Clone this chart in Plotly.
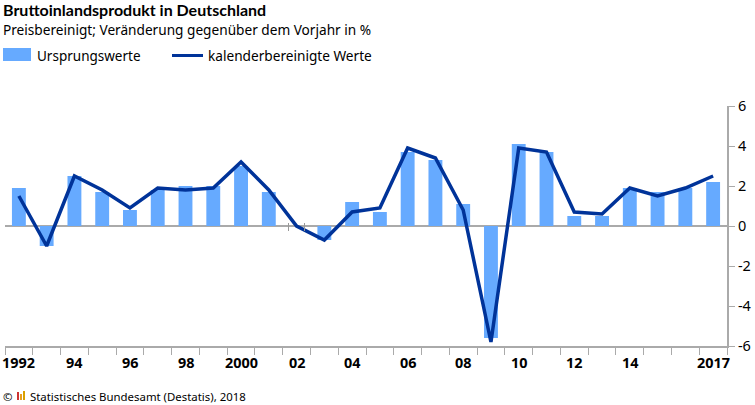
import plotly.graph_objects as go

years = list(range(1992, 2018))
bars = [1.9, -1.0, 2.5, 1.7, 0.8, 1.8, 2.0, 2.0, 3.0, 1.7, 0.0, -0.7, 1.2, 0.7, 3.7, 3.3, 1.1, -5.6, 4.1, 3.7, 0.5, 0.5, 1.9, 1.7, 1.9, 2.2]
line = [1.5, -1.0, 2.5, 1.8, 0.9, 1.9, 1.8, 1.9, 3.2, 1.8, 0.0, -0.7, 0.7, 0.9, 3.9, 3.4, 0.8, -5.8, 3.9, 3.7, 0.7, 0.6, 1.9, 1.5, 1.9, 2.5]
x_labels = {1992: "1992", 1994: "94", 1996: "96", 1998: "98", 2000: "2000", 2002: "02", 2004: "04", 2006: "06", 2008: "08", 2010: "10", 2012: "12", 2014: "14", 2017: "2017"}
y_ticks = [-6, -4, -2, 0, 2, 4, 6]
y_labels = ["-6", "-4", "-2", "0", "2", "4", "6"]
title = "Bruttoinlandsprodukt in Deutschland"
subtitle = "Preisbereinigt; Veränderung gegenüber dem Vorjahr in %"
source = "Statistisches Bundesamt (Destatis), 2018"

FONT = "Noto Sans"
W, H = 755, 405
L, R, T, B = 5, 727, 106, 346

fig = go.Figure()
fig.add_bar(x=years, y=bars, name="Ursprungswerte", marker=dict(color="#66aaff", line_width=0), width=0.5)
fig.add_scatter(x=years, y=line, mode="lines", name="kalenderbereinigte Werte", line=dict(color="#003399", width=3.5))

fig.update_layout(
    width=W, height=H, autosize=False, template=None, showlegend=False,
    paper_bgcolor="white", plot_bgcolor="white",
    margin=dict(l=L, r=W - R, t=T, b=H - B, pad=0),
    font=dict(family=FONT, color="#000000", size=14),
    xaxis=dict(range=[1991.5, 2017.5], showgrid=False, zeroline=False, showline=True, linecolor="#aaaaaa", linewidth=2,
               tickmode="array", tickvals=[y - 0.5 for y in years] + [2017.5], ticktext=[""] * 27,
               ticks="outside", ticklen=7, tickcolor="#aaaaaa", tickwidth=1),
    yaxis=dict(range=[-6, 6], side="right", showgrid=False, showline=True, linecolor="#aaaaaa", linewidth=2,
               zeroline=True, zerolinecolor="#aaaaaa", zerolinewidth=2,
               tickmode="array", tickvals=y_ticks, ticktext=y_labels, ticks="outside", ticklen=6, tickcolor="#aaaaaa", tickwidth=1,
               tickfont=dict(size=14.5)),
)

def text(x, y, s, size=14, anchor="left", bold=False, family=FONT):
    fig.add_annotation(xref="paper", yref="paper", x=(x - L) / (R - L), y=(B - y) / (B - T),
                       text=f"<b>{s}</b>" if bold else s, showarrow=False, xanchor=anchor, yanchor="middle",
                       borderpad=0, borderwidth=0,
                       font=dict(size=size, family=family))

def rect(x0, y0, x1, y1, color):
    fig.add_shape(type="rect", xref="paper", yref="paper", line_width=0, fillcolor=color,
                  x0=(x0 - L) / (R - L), x1=(x1 - L) / (R - L),
                  y0=(B - y0) / (B - T), y1=(B - y1) / (B - T))

text(3, 9, title, 16, bold=True, family="Lato")
text(3, 29, subtitle, 13.65)
text(37, 56, "Ursprungswerte", 13.5)
text(208, 55, "kalenderbereinigte Werte", 13.65)
text(3, 396, "©", 11.4)
text(30, 396, source, 11.4)
for y, s in x_labels.items():
    cx = L + (y - 1991.5) * (R - L) / 26
    text(cx, 362, s, 14.4, anchor="center", bold=True)

rect(3, 48, 31, 61, "#66aaff")
rect(172, 54, 203, 57, "#003399")
rect(17, 392, 19, 400, "#cc3333")
rect(20, 394, 22, 400, "#e8a020")
rect(23, 391, 25, 400, "#d9a000")
rect(288, 223, 289, 231, "#999999")
rect(304, 223, 305, 231, "#999999")

fig.write_html("out.html", config={"displayModeBar": False}, post_script="document.body.style.margin='0';")
